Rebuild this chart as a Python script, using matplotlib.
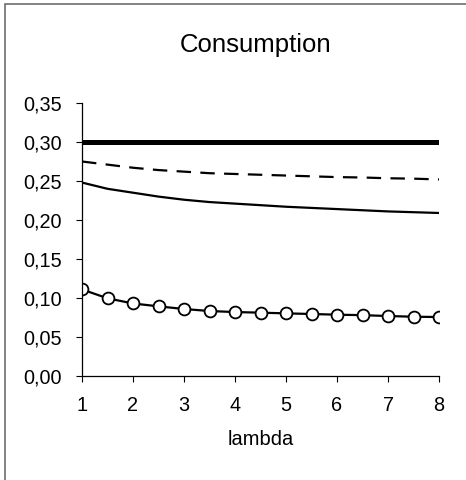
import matplotlib
matplotlib.use("Agg")
import matplotlib.pyplot as plt
from matplotlib.ticker import FuncFormatter
from matplotlib.patches import Rectangle

plt.rcParams['font.family'] = ['Liberation Sans', 'DejaVu Sans']

lam = [1, 1.5, 2, 2.5, 3, 3.5, 4, 4.5, 5, 5.5, 6, 6.5, 7, 7.5, 8]
thick = [0.300] * 15
dashed = [0.275, 0.271, 0.267, 0.264, 0.262, 0.260, 0.259, 0.258, 0.257, 0.256, 0.255, 0.2545, 0.2535, 0.253, 0.252]
solid = [0.248, 0.240, 0.235, 0.230, 0.226, 0.223, 0.221, 0.219, 0.217, 0.2155, 0.214, 0.2125, 0.211, 0.210, 0.209]
circles = [0.111, 0.0996, 0.093, 0.0893, 0.0859, 0.0833, 0.082, 0.0812, 0.0803, 0.0795, 0.0786, 0.078, 0.0769, 0.076, 0.0756]

fig = plt.figure(figsize=(4.66, 4.8), dpi=100)
ax = fig.add_axes([82/466, 1-376/480, (439-82)/466, (376-103)/480])

ax.plot(lam, thick, color='black', lw=3.6, solid_capstyle='round')
ax.plot(lam, dashed, color='black', lw=1.6, dashes=(6.5, 4.2))
ax.plot(lam, solid, color='black', lw=1.6)
ax.plot(lam, circles, color='black', lw=1.6, marker='o', ms=8.5,
        mfc='white', mec='black', mew=1.3)

ax.set_xlim(1, 8)
ax.set_ylim(0, 0.35)
ax.set_xticks(range(1, 9))
ax.set_yticks([0, 0.05, 0.10, 0.15, 0.20, 0.25, 0.30, 0.35])
ax.yaxis.set_major_formatter(FuncFormatter(lambda v, p: f"{v:.2f}".replace('.', ',')))
ax.spines['top'].set_visible(False)
ax.spines['right'].set_visible(False)
ax.tick_params(axis='both', direction='out', length=4.3, width=0.8, labelsize=14.3, pad=10)
for s in ['left', 'bottom']:
    ax.spines[s].set_linewidth(0.9)
ax.set_xlabel('lambda', fontsize=14.5)
ax.xaxis.set_label_coords(0.5, -0.198)

fig.text(256/466, 1-45/480, 'Consumption', fontsize=18.5, ha='center', va='center')

fig.patches.append(Rectangle((5/466, -0.1), 1.2, 1-4/480+0.1, transform=fig.transFigure,
                             fill=False, edgecolor='#6e6e6e', lw=1.2))

fig.savefig('out.png', dpi=100)
